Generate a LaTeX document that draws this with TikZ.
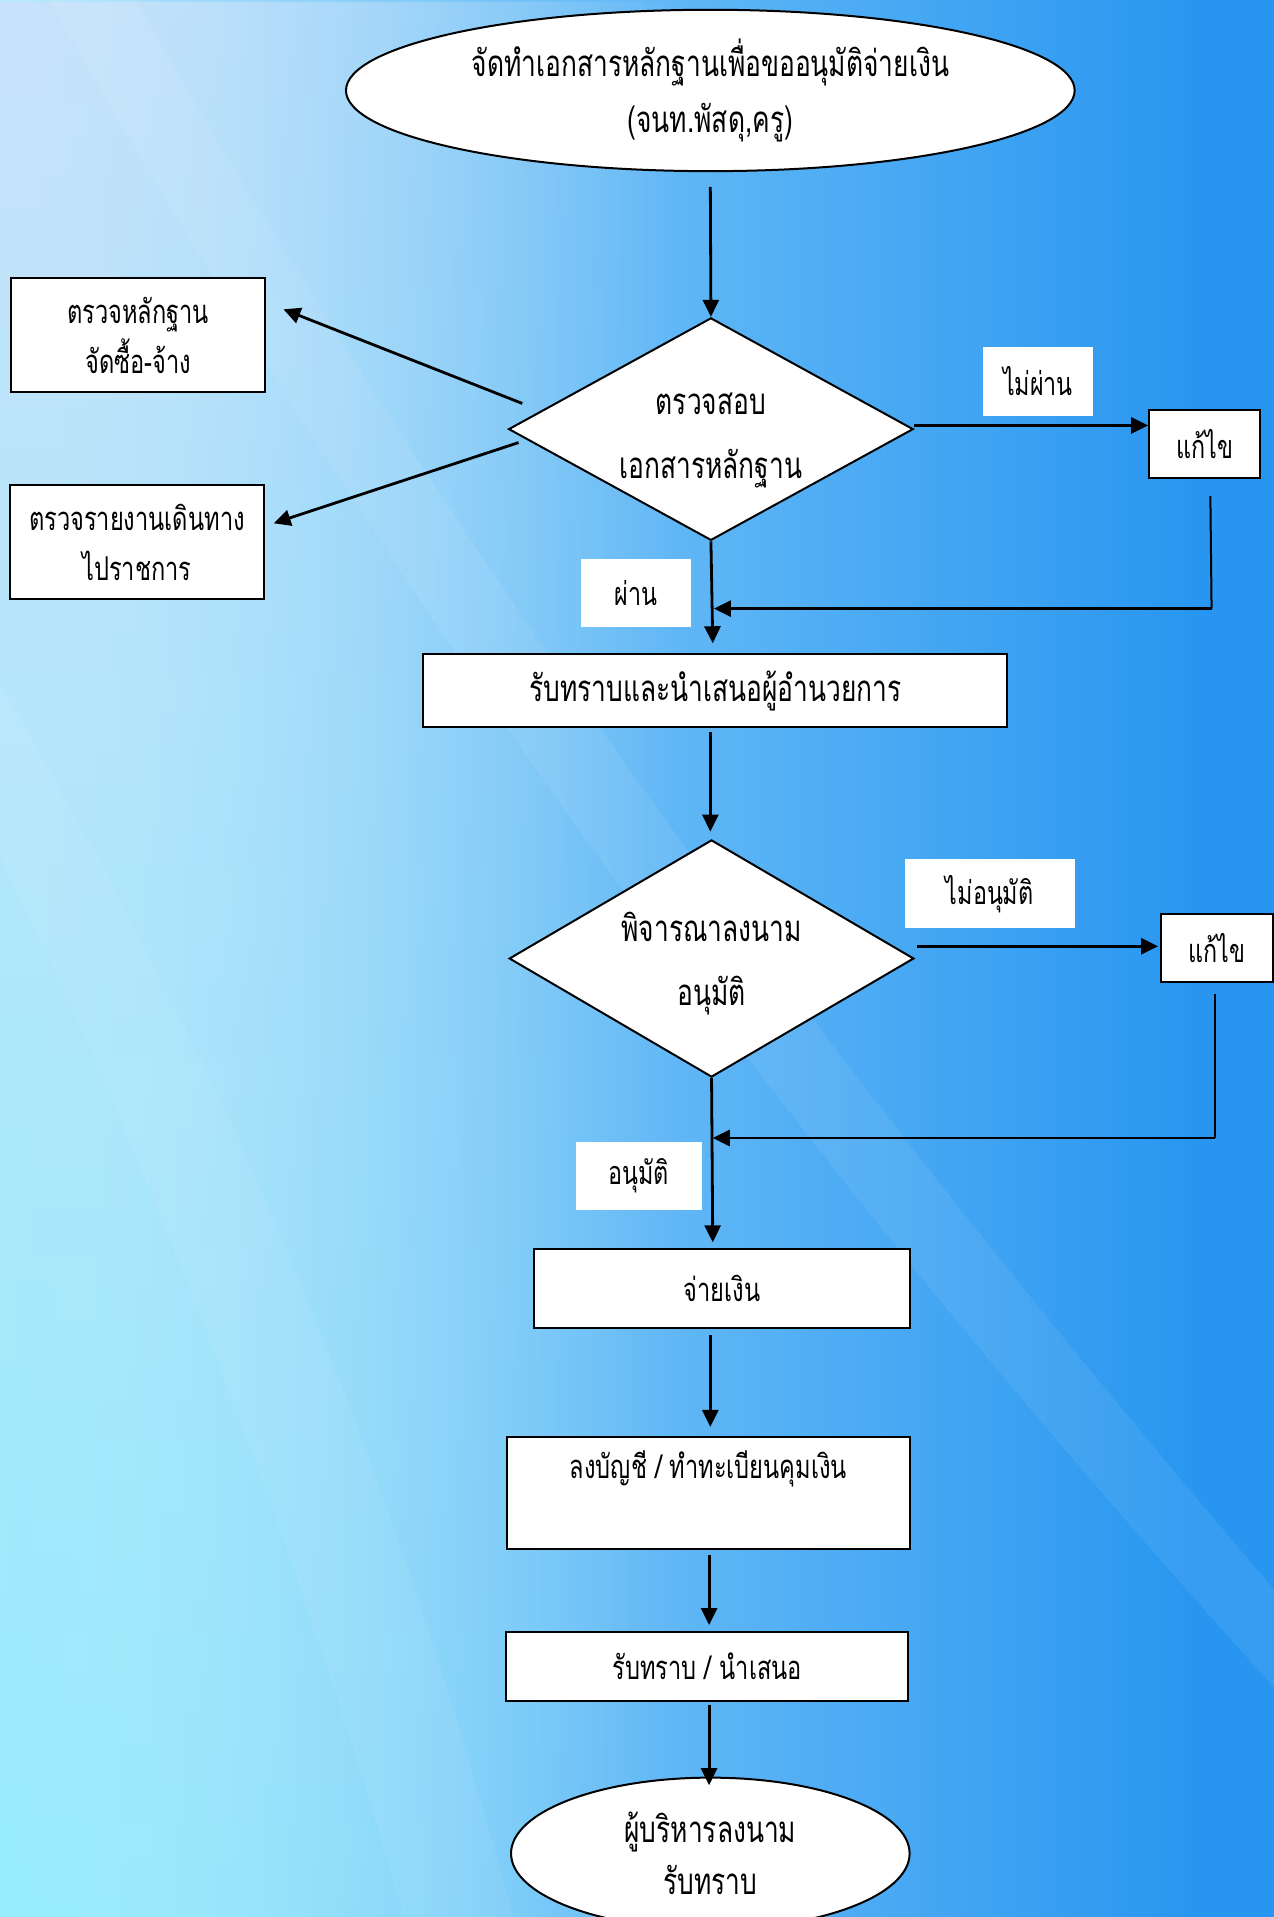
\documentclass[tikz,border=0pt]{standalone}
\usepackage{fontspec}
\newfontfamily\thai[Script=Thai,FakeStretch=0.72]{Loma}
\usetikzlibrary{shapes.geometric,arrows.meta,calc,fadings}
\definecolor{bgA}{RGB}{222,248,255}
\definecolor{bgB}{RGB}{190,236,253}
\definecolor{bgC}{RGB}{100,185,246}
\definecolor{bgD}{RGB}{40,150,240}
\definecolor{lTop}{RGB}{200,226,250}
\definecolor{lMid}{RGB}{228,250,255}
\definecolor{lBot}{RGB}{150,236,252}
\pgfdeclarehorizontalshading{bgh}{100bp}{color(0bp)=(bgA); color(24bp)=(bgB); color(50bp)=(bgC); color(72bp)=(bgD); color(100bp)=(bgD)}
\begin{document}
\begin{tikzpicture}[x=0.6113pt,y=-0.6113pt,
  base/.style={draw=black, line width=1pt, fill=white, align=center, inner sep=0pt},
  rbox/.style 2 args={base, rectangle, minimum width=#1*0.6113pt, minimum height=#2*0.6113pt},
  ebox/.style 2 args={base, ellipse, minimum width=#1*0.6113pt, minimum height=#2*0.6113pt},
  dbox/.style 2 args={base, diamond, shape aspect=1.8, minimum width=#1*0.6113pt, minimum height=#2*0.6113pt},
  lab/.style 2 args={fill=white, draw=none, inner sep=0pt, minimum width=#1*0.6113pt, minimum height=#2*0.6113pt, font=\thai\fontsize{16.2}{18}\selectfont},
  big/.style={font=\thai\fontsize{18.3}{28}\selectfont},
  mid/.style={font=\thai\fontsize{16.4}{25}\selectfont},
  small/.style={font=\thai\fontsize{16.4}{28}\selectfont},
  dtext/.style={align=center, inner sep=0pt, font=\thai\fontsize{18.3}{32}\selectfont},
  arr/.style={-{Triangle[length=8.5pt,width=8pt]}, line width=1.4pt},
  thin/.style={line width=1pt}
]
\clip (0,0) rectangle (1042,1568);
\useasboundingbox (0,0) rectangle (1042,1568);
% background
\shade[shading=bgh] (0,0) rectangle (1042,1568);
\shade[top color=lTop, middle color=lMid, bottom color=lBot, path fading=east] (0,0) rectangle (560,1568);
\fill[white, opacity=0.07] (110,0) .. controls (400,500) and (700,900) .. (1042,1300) -- (1042,1380) .. controls (680,980) and (360,560) .. (40,0) -- cycle;
\fill[white, opacity=0.06] (0,560) .. controls (200,900) and (320,1200) .. (420,1568) -- (330,1568) .. controls (240,1250) and (120,950) .. (0,700) -- cycle;

% nodes
\node[ebox={596}{132}, big] (start) at (581,74) {จัดทำเอกสารหลักฐานเพื่อขออนุมัติจ่ายเงิน\\(จนท.พัสดุ,ครู)};
\node[dbox={331}{182}] (d1) at (581.5,351) {};
\node[dtext] (d1t) at ($(d1.center)+(0,9)$) {ตรวจสอบ\\เอกสารหลักฐาน};
\node[rbox={208}{94}, mid] (b1) at (113,274) {ตรวจหลักฐาน\\จัดซื้อ-จ้าง};
\node[rbox={208}{93}, mid] (b2) at (112,443.5) {ตรวจรายงานเดินทาง\\ไปราชการ};
\node[lab={90}{56}] (lnp) at (849,312) {ไม่ผ่าน};
\node[rbox={91}{56}, font=\thai\fontsize{16.2}{18}\selectfont] (fix1) at (985.5,363) {แก้ไข};
\node[lab={90}{56}] (lp) at (520,485) {ผ่าน};
\node[rbox={478}{60}, big] (ack) at (585,565) {รับทราบและนำเสนอผู้อำนวยการ};
\node[dbox={331}{194}] (d2) at (582,784) {};
\node[dtext] (d2t) at ($(d2.center)+(0,4)$) {พิจารณาลงนาม\\อนุมัติ};
\node[lab={139}{56}] (lna) at (809.5,731) {ไม่อนุมัติ};
\node[rbox={91}{55}, font=\thai\fontsize{16.2}{18}\selectfont] (fix2) at (995.5,775.5) {แก้ไข};
\node[lab={103}{56}] (la) at (522.5,962) {อนุมัติ};
\node[rbox={307}{64}, small] (pay) at (590.5,1054) {จ่ายเงิน};
\node[rbox={329}{92}, small] (ledger) at (579.5,1221) {ลงบัญชี / ทำทะเบียนคุมเงิน\\\mbox{}};
\node[rbox={329}{56}, small] (present) at (578.5,1363) {รับทราบ / นำเสนอ};
\node[ebox={326}{124}, font=\thai\fontsize{18.3}{26}\selectfont] (fin) at (581,1516) {ผู้บริหารลงนาม\\รับทราบ};

% connectors
\draw[arr] (start.south) ++(0,12) -- (d1.north);
\draw[arr] ($(d1.west)+(12,-21)$) -- ($(b1.east)+(14,-21)$);
\draw[arr] ($(d1.west)+(9,11)$) -- ($(b2.east)+(7,-15.5)$);
\draw[arr] ($(d1.east)+(0,-3)$) -- ($(fix1.west)+(0,-15)$);
\coordinate (k1a) at ($(fix1.south)+(4.5,14)$);
\coordinate (k1b) at ($(fix1.south)+(5.5,106)$);
\draw[thin] (k1a) -- (k1b);
\draw[arr] (k1b) -- ($(d1.south |- k1b)+(2.5,0)$);
\draw[arr] (d1.south) -- ($(d1.south |- ack.north)+(1.5,-8)$);
\draw[arr] ($(ack.south -| d2.north)+(-1,3)$) -- ($(d2.north)+(-1,-6)$);
\draw[arr] ($(d2.east)+(2,-10)$) -- ($(fix2.west)+(-2,-1.5)$);
\coordinate (k2a) at ($(fix2.south)+(-1.5,9)$);
\coordinate (k2b) at ($(fix2.south)+(-1.5,127)$);
\draw[thin] (k2a) -- (k2b);
\draw[arr] (k2b) -- ($(d2.south |- k2b)+(1,0)$);
\draw[arr] (d2.south) -- ($(d2.south |- pay.north)+(1,-5)$);
\draw[arr] ($(pay.south -| ledger.north)+(1.5,5)$) -- ($(ledger.north)+(1.5,-7)$);
\draw[arr] ($(ledger.south)+(0.5,4)$) -- ($(ledger.south |- present.north)+(0.5,-5)$);
\draw[arr] ($(present.south)+(1.5,3)$) -- ($(present.south |- fin.north)+(1.5,7)$);
\end{tikzpicture}
\end{document}
